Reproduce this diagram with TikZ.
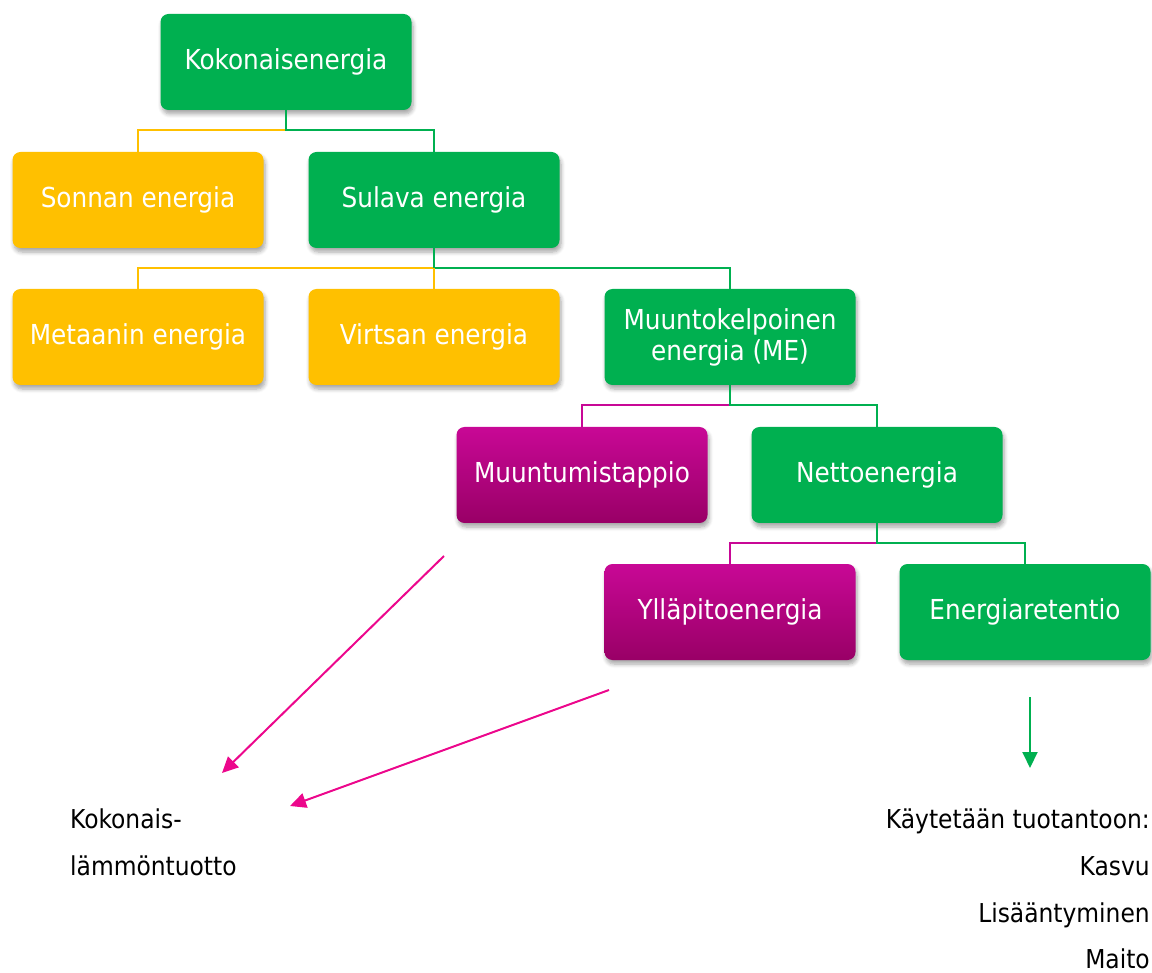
\documentclass[tikz,border=0pt]{standalone}
\usepackage{fontspec}
\setmainfont{DejaVu Sans Condensed}
\usepackage{tikz}
\usetikzlibrary{positioning, arrows.meta, shadows.blur}

\definecolor{vihrea}{HTML}{00B050}
\definecolor{keltainen}{HTML}{FFC000}
\definecolor{violetti1}{HTML}{C80896}
\definecolor{violetti2}{HTML}{990066}
\definecolor{pinkki}{HTML}{EC078C}

\tikzset{
	box/.style={rounded corners=8pt, minimum width=251pt, minimum height=96pt, inner sep=0pt,
		text=white, align=center, font=\fontsize{27.5}{31}\selectfont,
		blur shadow={shadow xshift=1.5pt, shadow yshift=-4pt, shadow blur radius=4pt,
			shadow blur steps=6, shadow opacity=35}},
	greenbox/.style={box, fill=vihrea},
	yellowbox/.style={box, fill=keltainen},
	pinkbox/.style={box, top color=violetti1, bottom color=violetti2},
	plain/.style={font=\fontsize{26}{30}\selectfont, inner sep=0pt},
	link/.style={-, line width=1.5pt}
}

\begin{document}
\begin{tikzpicture}[x=1pt, y=-1pt, >={Triangle[length=16pt,width=15pt]}]
	\useasboundingbox (0,0) rectangle (1152,973);

	\node[greenbox] (koko) at (286,62)  {Kokonaisenergia};
	\node[yellowbox] (sonta) at (138,200)  {Sonnan energia};
	\node[greenbox] (sulava) at (434,200)  {Sulava energia};
	\node[yellowbox] (metaani) at (138,337)  {Metaanin energia};
	\node[yellowbox] (virtsa) at (434,337)  {Virtsan energia};
	\node[greenbox] (me) at (730,337)  {Muuntokelpoinen\\energia (ME)};
	\node[pinkbox] (tappio) at (582,475)  {Muuntumistappio};
	\node[greenbox] (netto) at (877,475)  {Nettoenergia};
	\node[pinkbox] (yllapito) at (730,612)  {Ylläpitoenergia};
	\node[greenbox] (retentio) at (1025,612)  {Energiaretentio};

	\node[plain, anchor=base west] (lampo1) at (70,828)  {Kokonais-};
	\node[plain, anchor=base west] (lampo2) at (70,875)  {lämmöntuotto};
	\node[plain, anchor=base east] (tuotanto) at (1150,828)  {Käytetään tuotantoon:};
	\node[plain, anchor=base east] (kasvu) at (1150,875)  {Kasvu};
	\node[plain, anchor=base east] (lisaantyminen) at (1150,922)  {Lisääntyminen};
	\node[plain, anchor=base east] (maito) at (1150,968)  {Maito};

	\draw[link, keltainen] (koko.south) ++(0,20) -| (sonta.north);
	\draw[link, vihrea] (koko.south) -- ++(0,20) -| (sulava.north);
	\draw[link, keltainen] (sulava.south) ++(0,20) -| (metaani.north);
	\draw[link, vihrea] (sulava.south) -- ++(0,20) -| (me.north);
	\draw[link, keltainen] (sulava.south) ++(0,20) -- (virtsa.north);
	\draw[link, violetti1] (me.south) ++(0,20) -| (tappio.north);
	\draw[link, vihrea] (me.south) -- ++(0,20) -| (netto.north);
	\draw[link, violetti1] (netto.south) ++(0,20) -| (yllapito.north);
	\draw[link, vihrea] (netto.south) -- ++(0,20) -| (retentio.north);

	\coordinate (a1) at (444,556);
	\coordinate (b1) at (222,773);
	\coordinate (a2) at (609,690);
	\coordinate (b2) at (290,806);
	\coordinate (a3) at (1030,697);
	\coordinate (b3) at (1030,768);
	\draw[->, pinkki, line width=2pt] (a1) -- (b1);
	\draw[->, pinkki, line width=2pt] (a2) -- (b2);
	\draw[->, vihrea, line width=2pt] (a3) -- (b3);
\end{tikzpicture}
\end{document}
